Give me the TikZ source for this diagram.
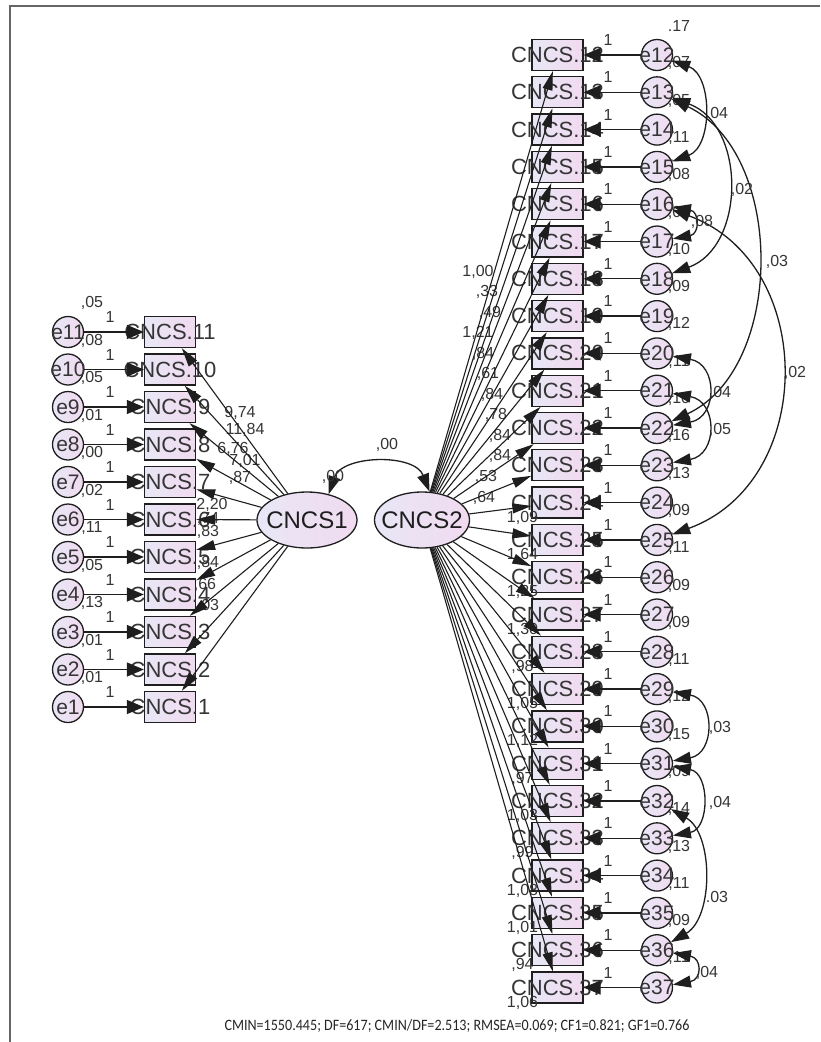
\documentclass[tikz,border=0pt]{standalone}
\usepackage{graphicx}
\usepackage{fontspec}
\setmainfont{Liberation Sans}
\newfontfamily\fitfont{Carlito}
\usetikzlibrary{arrows.meta,shapes.geometric}
\definecolor{amosink}{HTML}{1E1E1E}
\definecolor{amospink}{HTML}{F1DAF0}
\definecolor{amoslilac}{HTML}{E8E7F6}
\definecolor{framegray}{HTML}{666666}

\tikzset{
  obsbox/.style={draw=amosink,line width=1.3pt,minimum width=51pt,minimum height=31pt,inner sep=0pt,left color=amoslilac,right color=amospink},
  errcircle/.style={circle,draw=amosink,line width=1.3pt,minimum size=31pt,inner sep=0pt,left color=amoslilac,right color=amospink},
  latent/.style={ellipse,draw=amosink,line width=1.3pt,minimum height=56pt,inner sep=0pt,left color=amoslilac,right color=amospink},
  varname/.style={font=\fontsize{22}{24}\selectfont,text=amosink!90,inner sep=0pt},
  errname/.style={font=\fontsize{21}{23}\selectfont,text=amosink!90,inner sep=0pt},
  latentname/.style={font=\fontsize{24}{28}\selectfont,text=amosink,inner sep=0pt},
  est/.style={font=\fontsize{16}{18}\selectfont,text=amosink!90,inner sep=0pt},
  loading/.style={draw=amosink,line width=1.1pt,-{Triangle[length=19pt,width=10pt]}},
  errpath/.style={draw=amosink,line width=1.3pt,-{Triangle[length=17pt,width=14pt]}},
  covarc/.style={draw=amosink,line width=1.3pt,{Triangle[length=18pt,width=12pt]}-{Triangle[length=18pt,width=12pt]}}
}

\begin{document}
\begin{tikzpicture}[x=1pt,y=-1pt]
  \useasboundingbox (0,0) rectangle (820,1042);
  \draw[framegray,line width=2pt] (10,1042) -- (10,6) -- (820,6);

  \node[latent,minimum width=100pt] (cncs1) at (307,520) {};
  \node[latent,minimum width=95pt] (cncs2) at (422,520) {};
  \node[latentname] at (cncs1) {CNCS1};
  \node[latentname] at (cncs2) {CNCS2};

  \foreach \i in {1,...,11}{
    \pgfmathsetmacro\yy{707-(\i-1)*37.5}
    \node[obsbox] (x\i) at (170,\yy) {};
    \node[errcircle] (e\i) at (68,\yy) {};
  }
  \foreach \k in {12,...,37}{
    \pgfmathsetmacro\yy{55+(\k-12)*37.3}
    \node[obsbox] (x\k) at (557.5,\yy) {};
    \node[errcircle] (e\k) at (657,\yy) {};
  }
  \foreach \i in {1,...,37}{
    \node[varname] at (x\i) {CNCS.\i};
    \node[errname] at (e\i) {e\i};
  }

  \foreach \i/\v in {1/{,01},2/{,01},3/{,13},4/{,05},5/{,11},6/{,02},7/{,00},8/{,01},9/{,05},10/{,08},11/{,05}}
    \path (e\i) ++(24,-29) node[est] {\v};
  \foreach \k/\v in {12/{.17},13/{,07},14/{,05},15/{,11},16/{,08},17/{,06},18/{,10},19/{,09},20/{,12},21/{,11},22/{,10},23/{,16},24/{,13},25/{,09},26/{,11},27/{,09},28/{,09},29/{,11},30/{,12},31/{,15},32/{,09},33/{,14},34/{,13},35/{,11},36/{,09},37/{,11}}
    \path (e\k) ++(22,-29) node[est] {\v};

  \foreach \lx/\ly/\lab in {240/413/{9,74},245/430/{11,84},233/449/{6,76},245/461/{7,01},240/478/{,87},212/505/{2,20},208/519/{,74},208/532/{,83},208/563/{,84},205/585/{,66},208/606/{,03}}
    \node[est] at (\lx,\ly) {\lab};
  \foreach \lx/\ly/\lab in {478/272/{1,00},487/292/{,33},490/313/{,49},478/333/{1,21},483/354/{,84},488/374/{,61},492/395/{,84},496/415/{,78},500/436/{,84},500/456/{,84},486/477/{,53},484/498/{,64}}
    \node[est] at (\lx,\ly) {\lab};
  \foreach \k/\lab in {24/{1,09},25/{1,64},26/{1,25},27/{1,30},28/{,98},29/{1,05},30/{1,12},31/{,97},32/{1,03},33/{,99},34/{1,08},35/{1,01},36/{,94},37/{1,06}}
    \path (x\k) ++(-35,15) node[est] {\lab};

  \foreach \i in {1,...,11}{
    \draw[errpath] (e\i) -- (x\i);
    \draw[loading] (cncs1) -- (x\i);
    \path (e\i) ++(42,-15) node[est] {1};
  }
  \foreach \k in {12,...,37}{
    \draw[errpath] (e\k) -- (x\k);
    \draw[loading] (cncs2) -- (x\k);
    \path (e\k) ++(-49,-15) node[est] {1};
  }

  \draw[covarc] (cncs1.50) to[bend left=70,looseness=1.05] (cncs2.75);
  \node[est] at (387,445) {,00};
  \node[est] at (333,477) {,00};

  \foreach \a/\b/\ang/\loose in {12/15/70/1.1,13/18/70/1.15,13/22/65/1.0,16/25/70/1.22,16/17/80/2.2,20/22/80/1.7,21/23/80/1.7,29/31/80/1.6,31/33/80/1.4,32/36/60/0.95,36/37/80/2.4}
    \draw[covarc] (e\a) to[bend left=\ang,looseness=\loose] (e\b);
  \foreach \lx/\ly/\lab in {717/113/{.04},742/190/{,02},777/262/{,03},795/373/{,02},702/222/{,08},720/393/{,04},720/430/{,05},720/728/{,03},720/803/{,04},717/897/{.03},707/973/{,04}}
    \node[est] at (\lx,\ly) {\lab};

  \node[inner sep=0pt,text=black!85] (fitline) at (457,1026)
    {\resizebox{465pt}{11pt}{\fitfont\fontsize{14}{16}\selectfont CMIN=1550.445; DF=617; CMIN/DF=2.513; RMSEA=0.069; CF1=0.821; GF1=0.766}};
\end{tikzpicture}
\end{document}
